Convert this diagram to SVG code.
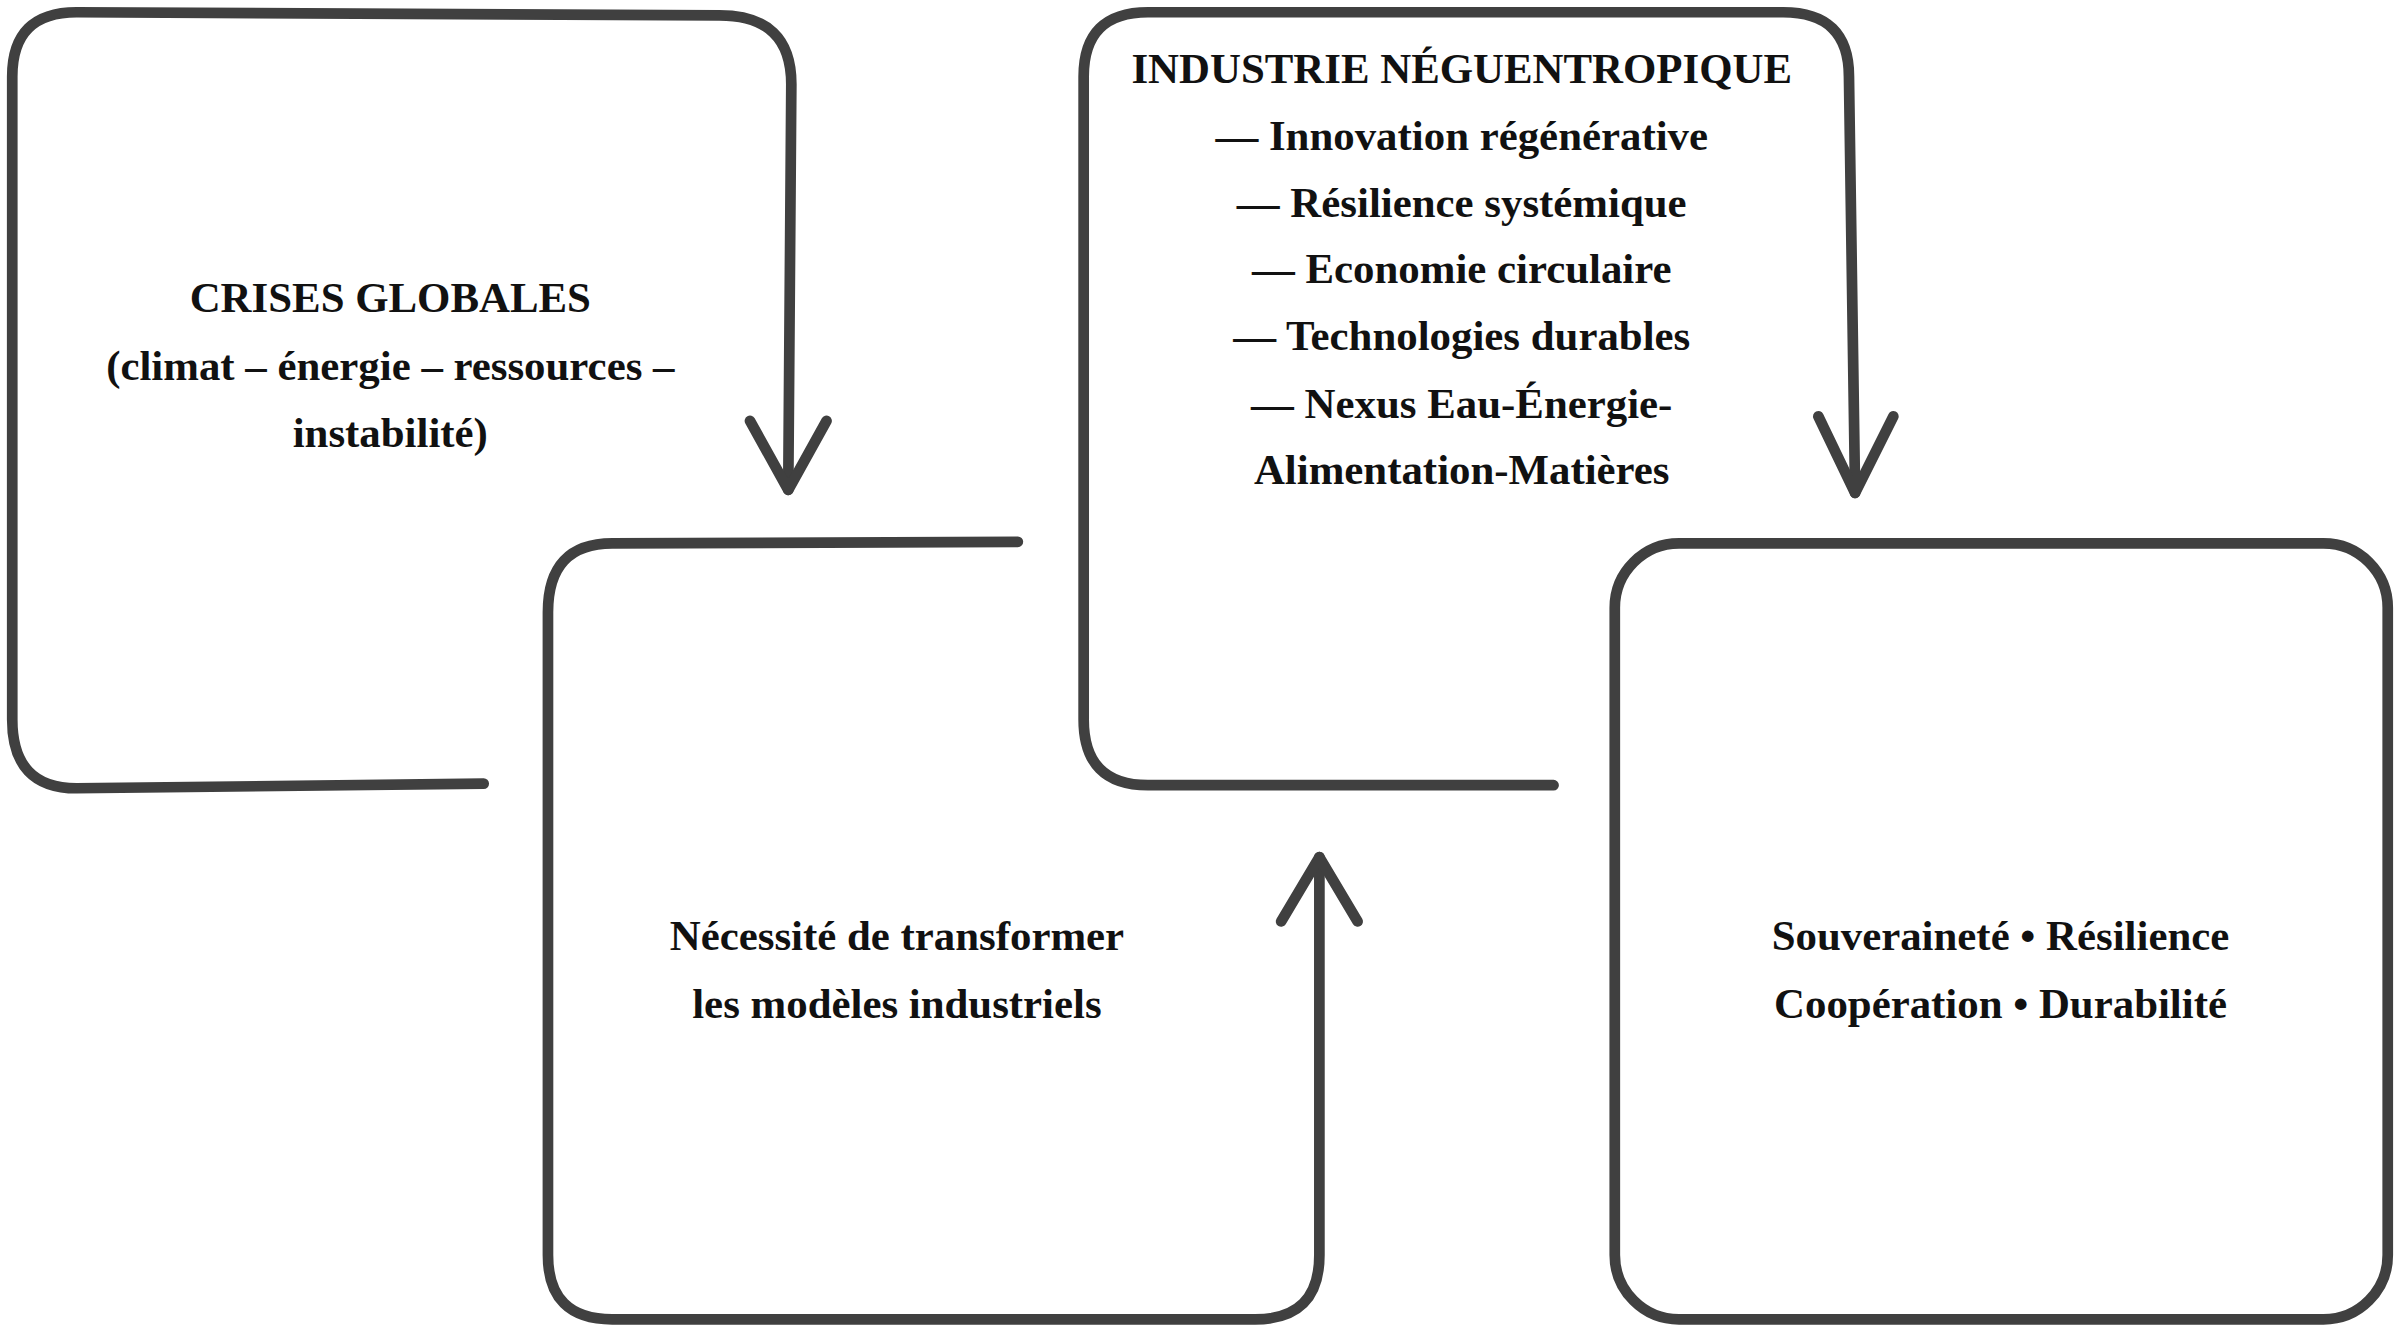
<svg xmlns="http://www.w3.org/2000/svg" width="2400" height="1328" viewBox="0 0 2400 1328">
<style>
.ln{fill:none;stroke:#404040;stroke-width:7;stroke-linecap:round;stroke-linejoin:round}
.t{font-family:"Liberation Serif",serif;font-weight:bold;font-size:28px;fill:#111;text-anchor:middle}
</style>
<rect width="2400" height="1328" fill="#fff"/>
<g transform="scale(1.5306)">
<g id="connectors">
<path class="ln" d="M316,512 L50,515 Q8,515 8,470 L8,50 Q8,8 50,8 L470,10 Q517,10 517,55 L515,320"/>
<path class="ln" d="M490,275 L515,320 L540,275"/>
<path class="ln" d="M665,354 L400,355 Q358,355 358,400 L358,820 Q358,862 400,862 L820,862 Q862,862 862,820 L862,560"/>
<path class="ln" d="M837,602 L862,560 L887,602"/>
<path class="ln" d="M1015,513 L750,513 Q708,513 708,470 L708,50 Q708,8 750,8 L1165,8 Q1208,8 1208,50 L1212,322"/>
<path class="ln" d="M1188,272 L1212,322 L1237,272"/>
</g>
<g id="n1"><text class="t" x="255" y="204">CRISES GLOBALES</text><text class="t" x="255" y="248">(climat – énergie – ressources –</text><text class="t" x="255" y="292">instabilité)</text></g>
<g id="n2"><text class="t" x="586" y="621">Nécessité de transformer</text><text class="t" x="586" y="665">les modèles industriels</text></g>
<g id="n3"><text class="t" x="955" y="54">INDUSTRIE NÉGUENTROPIQUE</text><text class="t" x="955" y="98">— Innovation régénérative</text><text class="t" x="955" y="142">— Résilience systémique</text><text class="t" x="955" y="185">— Economie circulaire</text><text class="t" x="955" y="229">— Technologies durables</text><text class="t" x="955" y="273">— Nexus Eau-Énergie-</text><text class="t" x="955" y="316">Alimentation-Matières</text></g>
<g id="n4"><rect class="ln" x="1055" y="355" width="505" height="507" rx="42"/><text class="t" x="1307" y="621">Souveraineté • Résilience</text><text class="t" x="1307" y="665">Coopération • Durabilité</text></g>
</g>
</svg>
